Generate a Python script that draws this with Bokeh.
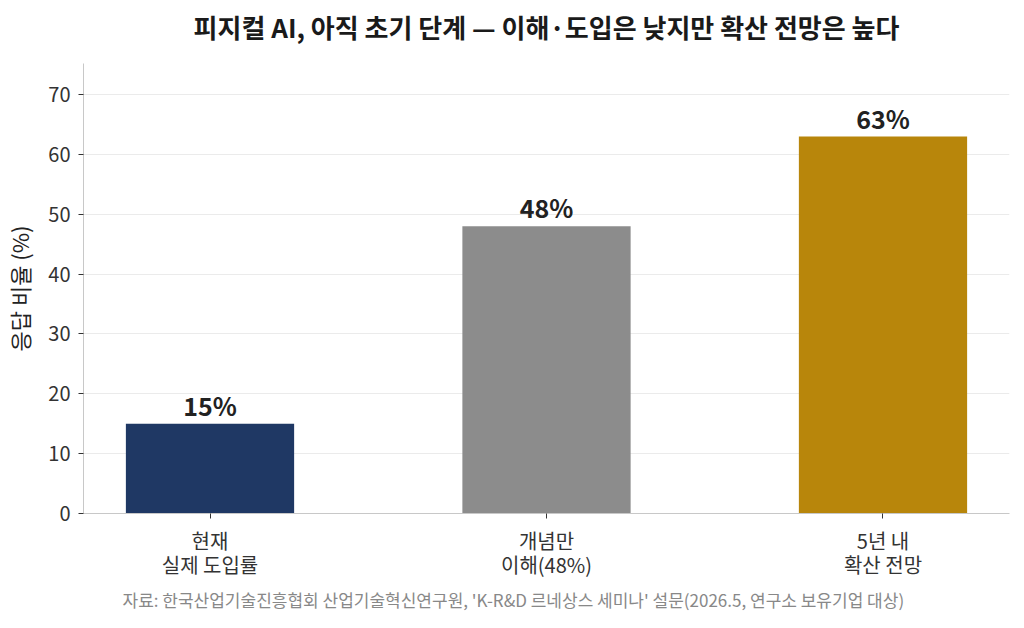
from bokeh.plotting import figure
from bokeh.models import FactorRange, Range1d, ColumnDataSource, Title, SingleIntervalTicker
from bokeh.core.properties import value
from bokeh.embed import file_html
from bokeh.resources import INLINE

categories = ["현재\n실제 도입률", "개념만\n이해(48%)", "5년 내\n확산 전망"]
values = [15, 48, 63]
colors = ["#1f3864", "#8c8c8c", "#b8860b"]
value_labels = ["15%", "48%", "63%"]
source_text = "자료: 한국산업기술진흥협회 산업기술혁신연구원, 'K-R&D 르네상스 세미나' 설문(2026.5, 연구소 보유기업 대상)"

FONT = "Noto Sans CJK KR"

src = ColumnDataSource(dict(cat=categories, val=values, color=colors, lab=value_labels))

p = figure(
    width=1016, height=620,
    x_range=FactorRange(factors=categories, range_padding=-0.0827, range_padding_units="percent"),
    y_range=Range1d(0, 75.2),
    output_backend="svg", toolbar_location=None,
    min_border_left=83, min_border_right=7, min_border_top=63, min_border_bottom=107,
)

p.vbar(x="cat", top="val", width=0.5, fill_color="color", line_color=None, source=src)
p.text(x="cat", y="val", text="lab", source=src, text_align="center", text_baseline="bottom",
       y_offset=-1, text_font=value(FONT), text_font_size="25px", text_font_style="bold",
       text_color="#222222")

spacer = Title(text=" ", text_font_size="1px", standoff=14)
p.add_layout(spacer, "above")
main_title = Title(text="피지컬 AI, 아직 초기 단계 — 이해·도입은 낮지만 확산 전망은 높다",
                   align="center", text_font=FONT, text_font_size="26px",
                   text_font_style="bold", text_color="#1a1a1a", standoff=4)
p.add_layout(main_title, "above")

p.outline_line_color = None
p.xgrid.grid_line_color = None
p.ygrid.grid_line_color = "#ebebeb"
p.ygrid.grid_line_width = 1

p.yaxis.ticker = SingleIntervalTicker(interval=10)
p.yaxis.axis_label = "응답 비율 (%)"
p.yaxis.axis_label_text_font = FONT
p.yaxis.axis_label_text_font_size = "22px"
p.yaxis.axis_label_text_font_style = "normal"
p.yaxis.axis_label_text_color = "#222222"
p.yaxis.axis_label_standoff = 10
for ax in (p.xaxis[0], p.yaxis[0]):
    ax.major_label_text_font = FONT
    ax.major_label_text_font_size = "20px"
    ax.major_label_text_color = "#333333"
    ax.axis_line_color = "#c8c8c8"
    ax.major_tick_line_color = "#333333"
    ax.major_tick_in = 0
    ax.major_tick_out = 5
    ax.minor_tick_line_color = None
p.xaxis.major_label_standoff = 7
p.xaxis.major_label_text_line_height = 0.85
p.yaxis.major_label_standoff = 8

note = Title(text=source_text, align="left", offset=39, text_font=FONT, text_font_size="17px",
             text_font_style="normal", text_color="#888888", standoff=5)
p.add_layout(note, "below")

open("out.html", "w").write(file_html(p, INLINE))
